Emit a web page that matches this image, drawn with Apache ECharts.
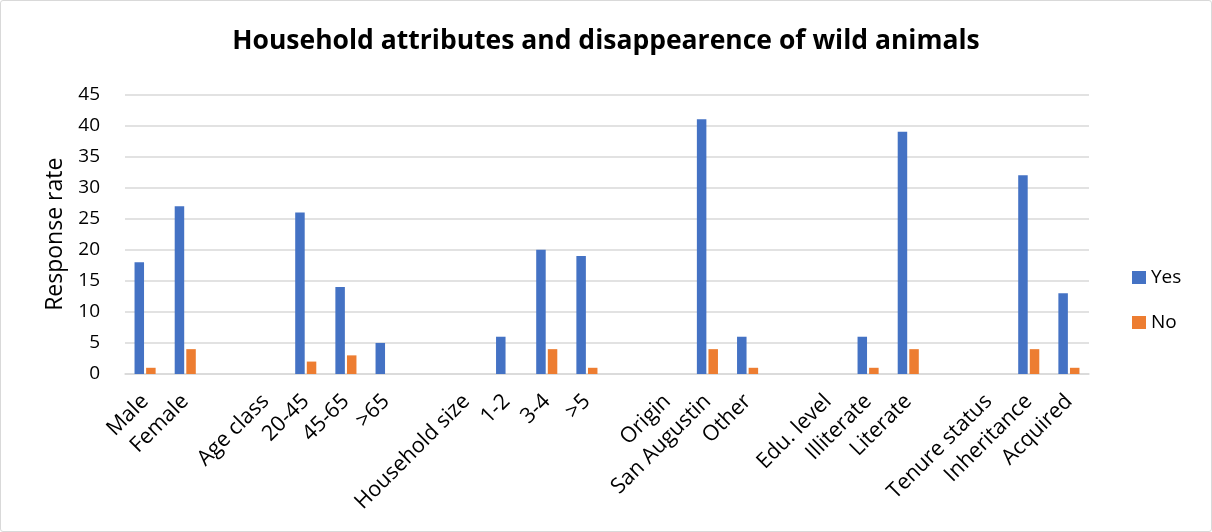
<!DOCTYPE html>
<html>
<head>
<meta charset="utf-8">
<script src="https://cdn.jsdelivr.net/npm/echarts@6/dist/echarts.min.js"></script>
<style>
  html, body { margin: 0; padding: 0; background: #fff; }
  #chart { width: 1212px; height: 532px; box-sizing: border-box; border: 1px solid #d9d9d9; border-radius: 3px; }
</style>
</head>
<body>
<div id="chart"></div>
<script>
// Household attributes; empty strings are spacer slots between groups
const categories = [
  'Male', 'Female', '', 'Age class', '20-45', '45-65', '>65', '', 'Household size',
  '1-2', '3-4', '>5', '', 'Origin', 'San Augustin', 'Other', '', 'Edu. level',
  'Illiterate', 'Literate', '', 'Tenure status', 'Inheritance', 'Acquired'
];
const yesValues = [18, 27, null, null, 26, 14, 5, null, null, 6, 20, 19, null, null, 41, 6, null, null, 6, 39, null, null, 32, 13];
const noValues  = [1, 4, null, null, 2, 3, null, null, null, null, 4, 1, null, null, 4, 1, null, null, 1, 4, null, null, 4, 1];
const seriesNames = ['Yes', 'No'];
const titleText = 'Household attributes and disappearence of wild animals';
const yAxisName = 'Response rate';

const FONT = '"Open Sans", Lato, sans-serif';
const chart = echarts.init(document.getElementById('chart'), null, { renderer: 'canvas' });

chart.setOption({
  animation: false,
  textStyle: { fontFamily: FONT },
  title: {
    text: titleText,
    left: 'center',
    top: 22,
    textStyle: { fontFamily: FONT, fontSize: 26.5, fontWeight: 'bold', color: '#000' }
  },
  legend: {
    orient: 'vertical',
    left: 1126,
    top: 262,
    itemWidth: 14,
    itemHeight: 13,
    itemGap: 26,
    icon: 'rect',
    textStyle: { fontFamily: FONT, fontSize: 19, color: '#000' },
    data: seriesNames
  },
  grid: { left: 124, right: 122, top: 93.5, bottom: 157, containLabel: false },
  xAxis: {
    type: 'category',
    data: categories,
    axisLine: { show: true, lineStyle: { color: '#d9d9d9', width: 1.5 } },
    axisTick: { show: false },
    axisLabel: {
      interval: 0,
      rotate: 45,
      margin: 24,
      fontFamily: FONT,
      fontSize: 21.5,
      color: '#000'
    }
  },
  yAxis: {
    type: 'value',
    min: 0,
    max: 45,
    interval: 5,
    name: yAxisName,
    nameLocation: 'middle',
    nameGap: 57,
    nameTextStyle: { fontFamily: FONT, fontSize: 23, color: '#000' },
    axisLine: { show: false },
    axisTick: { show: false },
    splitLine: { lineStyle: { color: '#d9d9d9', width: 1.5 } },
    axisLabel: { fontFamily: FONT, fontSize: 19, color: '#000', margin: 25 }
  },
  series: [
    {
      name: seriesNames[0],
      type: 'bar',
      data: yesValues,
      barWidth: 9.5,
      barGap: '22%',
      itemStyle: { color: '#4472c4' }
    },
    {
      name: seriesNames[1],
      type: 'bar',
      data: noValues,
      barWidth: 9.5,
      itemStyle: { color: '#ed7d31' }
    }
  ]
});
</script>
</body>
</html>
